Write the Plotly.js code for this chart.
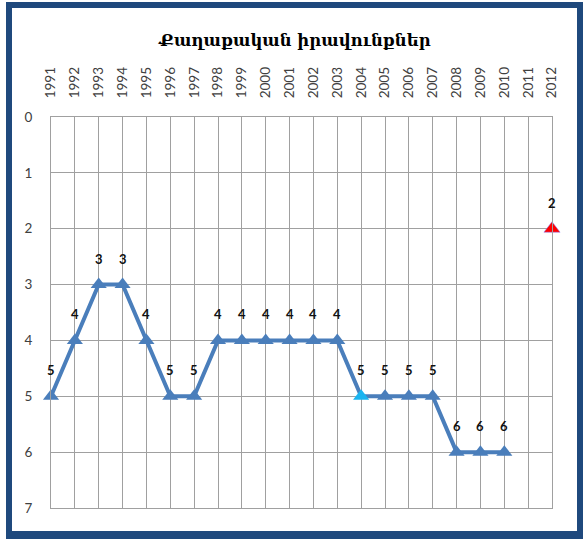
<!DOCTYPE html>
<html>
<head>
<meta charset="utf-8">
<script src="https://cdn.plot.ly/plotly-3.0.1.min.js"></script>
<style>
html,body{margin:0;padding:0;background:#fff;}
#wrap{position:absolute;left:0;top:0;width:584px;height:539px;}
#frame{position:absolute;left:6px;top:2px;width:577px;height:537px;box-sizing:border-box;border:6px solid #1F497D;border-bottom-width:8px;pointer-events:none;}
#chart{position:absolute;left:0;top:0;width:584px;height:539px;}
</style>
</head>
<body>
<div id="wrap">
<div id="chart"></div>
<div id="frame"></div>
</div>
<script>
const years = ['1991','1992','1993','1994','1995','1996','1997','1998','1999','2000','2001','2002','2003','2004','2005','2006','2007','2008','2009','2010','2011','2012'];
const mainSeries = [5,4,3,3,4,5,5,4,4,4,4,4,4,5,5,5,5,6,6,6,null,null];
const laterYears = ['2012'];
const laterValues = [2];
const chartTitle = 'Քաղաքական իրավունքներ';

const lineColor = '#4A7EBB';
const mainMarkerColors = years.map(y => y === '2004' ? '#1AB4F0' : lineColor);
const labelFont = {family: 'Lato, "Liberation Sans", sans-serif', size: 13, color: '#111', weight: 'bold'};
const tickFont = {family: 'Lato, "Liberation Sans", sans-serif', size: 13.5, color: '#404040'};

const traces = [
  {
    x: years, y: mainSeries, type: 'scatter', mode: 'lines+markers',
    connectgaps: false, cliponaxis: false,
    line: {color: lineColor, width: 4},
    marker: {symbol: 'triangle-up', size: 14, color: mainMarkerColors},
    hoverinfo: 'x+y'
  },
  {
    x: laterYears, y: laterValues, type: 'scatter', mode: 'markers',
    cliponaxis: false,
    marker: {symbol: 'triangle-up', size: 14, color: '#FF0000', line: {color: '#7F7FFF', width: 0.5}},
    hoverinfo: 'x+y'
  }
];

const annotations = [];
years.forEach((yr, i) => {
  if (mainSeries[i] !== null) annotations.push({x: i, y: mainSeries[i], text: String(mainSeries[i])});
});
laterYears.forEach((yr, i) => annotations.push({x: years.indexOf(yr), y: laterValues[i], text: String(laterValues[i])}));
annotations.forEach(a => Object.assign(a, {xref: 'x', yref: 'y', showarrow: false, yshift: 26, yanchor: 'middle', xanchor: 'center', font: labelFont}));

const layout = {
  width: 584, height: 539,
  margin: {l: 51, r: 32, t: 117, b: 31},
  paper_bgcolor: '#ffffff', plot_bgcolor: '#ffffff',
  showlegend: false,
  annotations: annotations,
  title: {
    text: '<b>' + chartTitle + '</b>',
    font: {family: '"DejaVu Serif", serif', size: 16.5, color: '#000'},
    x: 0.487, xanchor: 'center', y: 1 - 40/539, yanchor: 'middle', xref: 'paper'
  },
  xaxis: {
    type: 'category', categoryorder: 'array', categoryarray: years,
    range: [0, years.length - 1],
    side: 'top', tickangle: -90,
    tickfont: tickFont,
    showgrid: true, gridcolor: '#A0A0A0', gridwidth: 1,
    showline: true, linecolor: '#A0A0A0', linewidth: 1, mirror: true,
    ticks: '', ticklen: 0, zeroline: false, fixedrange: true, ticklabelstandoff: 15
  },
  yaxis: {
    range: [7, 0], dtick: 1, tick0: 0,
    tickfont: tickFont,
    showgrid: true, gridcolor: '#A0A0A0', gridwidth: 1,
    showline: true, linecolor: '#A0A0A0', linewidth: 1, mirror: true,
    ticks: '', zeroline: false, ticklabelstandoff: 15, fixedrange: true
  }
};

Plotly.newPlot('chart', traces, layout, {displayModeBar: false, staticPlot: true});
</script>
</body>
</html>
